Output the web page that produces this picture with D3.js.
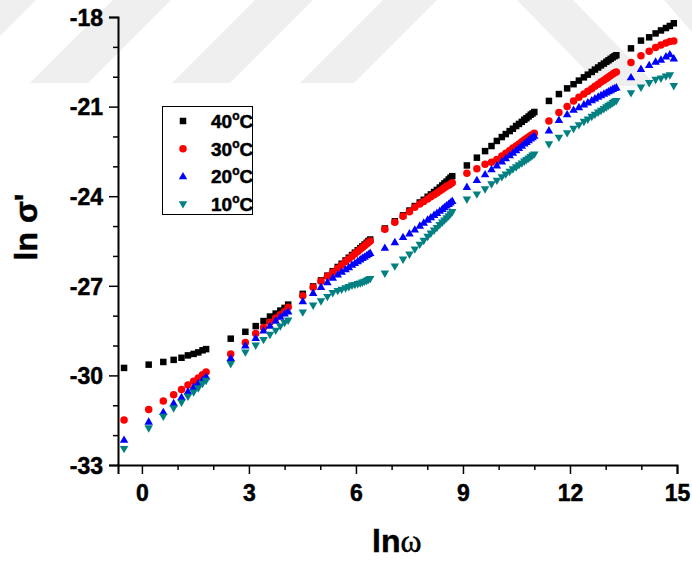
<!DOCTYPE html>
<html>
<head>
<meta charset="utf-8">
<script src="https://cdn.jsdelivr.net/npm/d3@7"></script>
<style>
  html, body { margin: 0; padding: 0; background: #fff; }
  svg { display: block; }
  text { font-family: "Liberation Sans", Arial, sans-serif; font-weight: bold; fill: #000; stroke: #000; stroke-width: 0.5px; }
</style>
</head>
<body>
<svg id="chart" width="692" height="563"></svg>
<script>
// ---- data ----
const lnOmega = [
  -0.50, 0.19, 0.60, 0.89, 1.11, 1.29, 1.45, 1.58, 1.70, 1.80,
  2.49, 2.90, 3.19, 3.41, 3.59, 3.75, 3.88, 4.00, 4.10,
  4.51, 4.80, 5.02, 5.20, 5.35, 5.49, 5.60, 5.71, 5.80, 5.89, 5.97, 6.05, 6.12, 6.18, 6.24, 6.30, 6.35, 6.40,
  6.81, 7.09, 7.32, 7.50, 7.65, 7.79, 7.90, 8.01, 8.10, 8.19, 8.27, 8.35, 8.42, 8.48, 8.54, 8.60, 8.65, 8.70,
  9.11, 9.39, 9.62, 9.80, 9.95, 10.09, 10.20, 10.31, 10.40, 10.49, 10.57, 10.65, 10.72, 10.78, 10.84, 10.90, 10.95, 11.00,
  11.41, 11.69, 11.92, 12.10, 12.25, 12.39, 12.50, 12.61, 12.70, 12.79, 12.87, 12.95, 13.02, 13.08, 13.14, 13.20, 13.25, 13.30,
  13.71, 13.99, 14.22, 14.40, 14.55, 14.69, 14.80, 14.91
];

const sigma40 = [
  -29.75, -29.64, -29.55, -29.48, -29.41, -29.33, -29.28, -29.23, -29.16, -29.12,
  -28.77, -28.54, -28.35, -28.18, -28.03, -27.93, -27.83, -27.74, -27.63,
  -27.27, -27.02, -26.82, -26.66, -26.51, -26.37, -26.26, -26.15, -26.06, -25.97, -25.89, -25.81, -25.74, -25.68, -25.62, -25.56, -25.50, -25.45,
  -25.08, -24.84, -24.64, -24.48, -24.33, -24.21, -24.12, -24.02, -23.94, -23.86, -23.79, -23.71, -23.64, -23.57, -23.51, -23.44, -23.38, -23.33,
  -22.97, -22.71, -22.49, -22.32, -22.15, -22.02, -21.92, -21.82, -21.74, -21.65, -21.58, -21.51, -21.44, -21.39, -21.33, -21.27, -21.23, -21.18,
  -20.81, -20.58, -20.39, -20.25, -20.13, -20.02, -19.93, -19.84, -19.76, -19.69, -19.62, -19.56, -19.50, -19.45, -19.40, -19.35, -19.31, -19.28,
  -19.05, -18.79, -18.68, -18.55, -18.45, -18.37, -18.30, -18.21
];

const sigma30 = [
  -31.49, -31.14, -30.86, -30.65, -30.47, -30.32, -30.20, -30.09, -29.98, -29.89,
  -29.28, -28.90, -28.60, -28.40, -28.22, -28.08, -27.97, -27.86, -27.72,
  -27.33, -27.05, -26.85, -26.68, -26.55, -26.41, -26.30, -26.19, -26.10, -26.01, -25.93, -25.85, -25.78, -25.72, -25.66, -25.60, -25.55, -25.50,
  -25.11, -24.87, -24.67, -24.52, -24.37, -24.26, -24.18, -24.09, -24.02, -23.95, -23.89, -23.83, -23.77, -23.72, -23.67, -23.63, -23.59, -23.55,
  -23.23, -23.08, -22.93, -22.86, -22.77, -22.65, -22.56, -22.47, -22.39, -22.32, -22.25, -22.18, -22.12, -22.07, -22.02, -21.97, -21.93, -21.89,
  -21.48, -21.20, -21.00, -20.81, -20.69, -20.58, -20.49, -20.40, -20.32, -20.25, -20.18, -20.12, -20.06, -20.01, -19.96, -19.91, -19.87, -19.84,
  -19.52, -19.30, -19.15, -19.02, -18.94, -18.87, -18.82, -18.80
];

const sigma20 = [
  -32.16, -31.55, -31.23, -30.93, -30.73, -30.54, -30.39, -30.26, -30.15, -30.04,
  -29.42, -29.00, -28.75, -28.50, -28.34, -28.17, -28.04, -27.93, -27.86,
  -27.52, -27.24, -27.04, -26.88, -26.73, -26.62, -26.53, -26.45, -26.38, -26.30, -26.24, -26.18, -26.12, -26.07, -26.03, -25.98, -25.94, -25.90,
  -25.73, -25.54, -25.37, -25.25, -25.12, -24.99, -24.89, -24.79, -24.71, -24.63, -24.56, -24.49, -24.43, -24.37, -24.31, -24.26, -24.21, -24.16,
  -23.69, -23.46, -23.27, -23.10, -22.97, -22.84, -22.73, -22.63, -22.55, -22.46, -22.39, -22.31, -22.24, -22.19, -22.13, -22.07, -22.03, -21.98,
  -21.80, -21.45, -21.26, -21.11, -21.02, -20.93, -20.86, -20.79, -20.73, -20.67, -20.62, -20.57, -20.53, -20.49, -20.45, -20.41, -20.38, -20.36,
  -20.02, -19.74, -19.61, -19.50, -19.43, -19.32, -19.25, -19.39
];

const sigma10 = [
  -32.46, -31.77, -31.38, -31.10, -30.91, -30.71, -30.57, -30.43, -30.28, -30.18,
  -29.62, -29.23, -29.00, -28.81, -28.64, -28.50, -28.36, -28.24, -28.16,
  -27.89, -27.66, -27.52, -27.37, -27.24, -27.17, -27.13, -27.08, -27.04, -26.99, -26.97, -26.94, -26.92, -26.89, -26.86, -26.83, -26.80, -26.77,
  -26.59, -26.35, -26.12, -25.95, -25.78, -25.62, -25.49, -25.36, -25.25, -25.15, -25.06, -24.96, -24.88, -24.81, -24.74, -24.67, -24.60, -24.53,
  -24.11, -23.94, -23.77, -23.60, -23.48, -23.36, -23.27, -23.18, -23.10, -23.03, -22.96, -22.90, -22.84, -22.79, -22.74, -22.69, -22.64, -22.60,
  -22.26, -22.04, -21.89, -21.74, -21.62, -21.51, -21.43, -21.34, -21.27, -21.20, -21.14, -21.08, -21.02, -20.97, -20.93, -20.88, -20.84, -20.81,
  -20.55, -20.36, -20.21, -20.10, -20.06, -19.99, -19.95, -20.31
];

const seriesNames = ["40", "30", "20", "10"];
const seriesValues = [sigma40, sigma30, sigma20, sigma10];
const seriesColors = ["#000000", "#ff0000", "#0000ff", "#008080"];
const seriesSymbols = ["square", "circle", "triangleUp", "triangleDown"];

const xTicks = [0, 3, 6, 9, 12, 15];
const xMinorTicks = [1, 2, 4, 5, 7, 8, 10, 11, 13, 14];
const yTicks = [-33, -30, -27, -24, -21, -18];
const yMinorTicks = [-32, -31, -29, -28, -26, -25, -23, -22, -20, -19];

// ---- drawing ----
const svg = d3.select("#chart");

// faint background watermark bands
const wm = svg.append("g").attr("fill", "#efefef");
[
  [[-105, 83], [-47, 83], [36, 0], [-22, 0]],
  [[30, 83], [88, 83], [171, 0], [113, 0]],
  [[172, 83], [230, 83], [313, 0], [255, 0]],
  [[300, 83], [354, 83], [437, 0], [383, 0]],
  [[517, 0], [573, 0], [657, 86], [601, 86]],
  [[664, 0], [692, 0], [692, 32]]
].forEach(p => wm.append("polygon").attr("points", p.map(d => d.join(",")).join(" ")));

const x = d3.scaleLinear().domain([-0.67, 15]).range([118, 677]);
const y = d3.scaleLinear().domain([-33, -18]).range([465, 17]);
const fmt = d => String(d);

// axes
const xAxis = svg.append("g").attr("transform", `translate(0,${y(-33)})`);
xAxis.call(d3.axisBottom(x).tickValues(xTicks).tickSize(9).tickPadding(11).tickFormat(fmt));
const xMinor = svg.append("g").attr("transform", `translate(0,${y(-33)})`);
xMinor.call(d3.axisBottom(x).tickValues(xMinorTicks).tickSize(5).tickFormat(""));

const yAxis = svg.append("g").attr("transform", `translate(${x(-0.67)},0)`);
yAxis.call(d3.axisLeft(y).tickValues(yTicks).tickSize(9).tickPadding(6).tickFormat(fmt));
const yMinor = svg.append("g").attr("transform", `translate(${x(-0.67)},0)`);
yMinor.call(d3.axisLeft(y).tickValues(yMinorTicks).tickSize(5).tickFormat(""));

[xAxis, xMinor, yAxis, yMinor].forEach(g => {
  g.selectAll(".domain").attr("stroke", "#000").attr("stroke-width", 2);
  g.selectAll(".tick line").attr("stroke", "#000").attr("stroke-width", 1.5);
  g.selectAll("text").attr("font-size", 23).attr("font-weight", "bold")
    .attr("font-family", "'Liberation Sans', Arial, sans-serif").attr("fill", "#000");
});
xMinor.select(".domain").remove();
yMinor.select(".domain").remove();
yAxis.selectAll("text").attr("dy", "0.36em");

// symbol generators
function symbolPath(kind, s) {
  if (kind === "square") return d3.symbol().type(d3.symbolSquare).size(s * s)();
  if (kind === "circle") return d3.symbol().type(d3.symbolCircle).size(Math.PI * (s / 2) * (s / 2))();
  const h = s * 0.87, w = s;
  if (kind === "triangleUp") return `M0,${-h * 0.6}L${w / 2},${h * 0.4}L${-w / 2},${h * 0.4}Z`;
  return `M0,${h * 0.6}L${w / 2},${-h * 0.4}L${-w / 2},${-h * 0.4}Z`;
}
const symbolSizes = { square: 6.5, circle: 7.5, triangleUp: 8.5, triangleDown: 8.5 };

seriesValues.forEach((vals, i) => {
  const g = svg.append("g");
  g.selectAll("path").data(vals.map((v, j) => [lnOmega[j], v])).join("path")
    .attr("transform", d => `translate(${x(d[0])},${y(d[1])})`)
    .attr("d", symbolPath(seriesSymbols[i], symbolSizes[seriesSymbols[i]]))
    .attr("fill", seriesColors[i]);
});

// legend
const lg = svg.append("g");
lg.append("rect").attr("x", 162.5).attr("y", 106.5).attr("width", 90).attr("height", 108)
  .attr("fill", "#fff").attr("stroke", "#000").attr("stroke-width", 1);
seriesNames.forEach((name, i) => {
  const cy = 121 + i * 27.7;
  lg.append("path").attr("transform", `translate(183,${cy})`)
    .attr("d", symbolPath(seriesSymbols[i], symbolSizes[seriesSymbols[i]]))
    .attr("fill", seriesColors[i]);
  const t = lg.append("text").attr("x", 211).attr("y", cy + 7).attr("font-size", 19);
  t.append("tspan").text(name);
  t.append("tspan").attr("font-size", 12).attr("dy", -8).text("o");
  t.append("tspan").attr("dy", 8).text("C");
});

// axis titles
const xt = svg.append("text").attr("x", 372).attr("y", 552).attr("font-size", 32);
xt.append("tspan").text("ln");
xt.append("tspan").attr("font-family", "'Liberation Serif', 'Times New Roman', serif")
  .attr("font-weight", "normal").attr("font-size", 32).text("ω");

svg.append("text").attr("transform", "translate(37,227) rotate(-90)")
  .attr("text-anchor", "middle").attr("font-size", 32).text("ln σ'");
</script>
</body>
</html>
